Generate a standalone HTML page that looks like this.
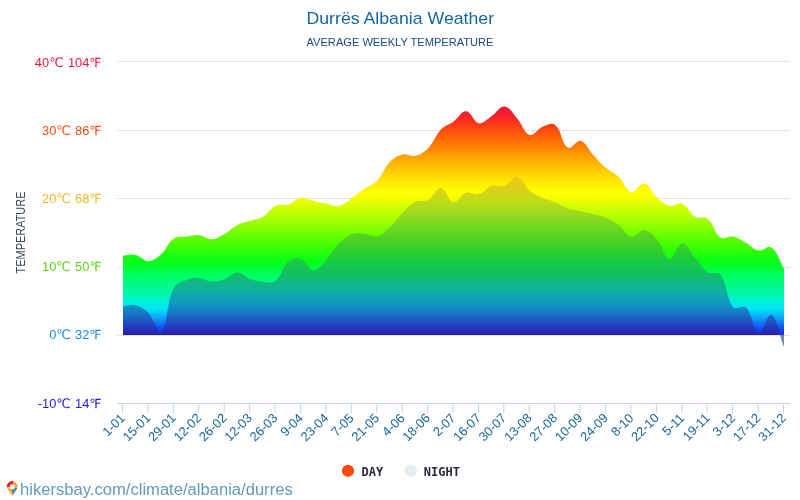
<!DOCTYPE html>
<html lang="sq"><head><meta charset="utf-8"><title>Durrës Albania Weather</title>
<style>html,body{margin:0;padding:0;background:#fff}body{width:800px;height:500px;overflow:hidden}svg{display:block}text{font-family:"Liberation Sans", "DejaVu Sans", sans-serif}</style></head><body>
<svg width="800" height="500" viewBox="0 0 800 500">
<defs><linearGradient id="gd" gradientUnits="userSpaceOnUse" x1="0" y1="61.4" x2="0" y2="403.4"><stop offset="0.0000" stop-color="#e0104a"/><stop offset="0.1304" stop-color="#f01838"/><stop offset="0.1509" stop-color="#f01c34"/><stop offset="0.1655" stop-color="#f82828"/><stop offset="0.1830" stop-color="#ff3818"/><stop offset="0.2035" stop-color="#ff5010"/><stop offset="0.2240" stop-color="#ff6808"/><stop offset="0.2503" stop-color="#ff8000"/><stop offset="0.2766" stop-color="#ffa000"/><stop offset="0.3088" stop-color="#ffc000"/><stop offset="0.3409" stop-color="#ffe000"/><stop offset="0.3731" stop-color="#fff800"/><stop offset="0.3819" stop-color="#ffff00"/><stop offset="0.3936" stop-color="#fcff00"/><stop offset="0.4345" stop-color="#c8ff00"/><stop offset="0.4696" stop-color="#a0ff00"/><stop offset="0.5047" stop-color="#70ff00"/><stop offset="0.5398" stop-color="#40ff04"/><stop offset="0.5690" stop-color="#18ff10"/><stop offset="0.5865" stop-color="#08ff18"/><stop offset="0.6012" stop-color="#00ff30"/><stop offset="0.6246" stop-color="#00ff60"/><stop offset="0.6743" stop-color="#00f8a0"/><stop offset="0.7006" stop-color="#00f0d8"/><stop offset="0.7240" stop-color="#00e4f8"/><stop offset="0.7386" stop-color="#08c0f8"/><stop offset="0.7561" stop-color="#1090f8"/><stop offset="0.7737" stop-color="#1060f0"/><stop offset="0.7868" stop-color="#1040f0"/><stop offset="0.8000" stop-color="#1430e8"/><stop offset="1.0000" stop-color="#2414e0"/></linearGradient>
<linearGradient id="gn" gradientUnits="userSpaceOnUse" x1="0" y1="61.4" x2="0" y2="403.4"><stop offset="0.0000" stop-color="#ecc818"/><stop offset="0.3380" stop-color="#ecc818"/><stop offset="0.3614" stop-color="#e4cc18"/><stop offset="0.3848" stop-color="#d6d418"/><stop offset="0.4111" stop-color="#bedb18"/><stop offset="0.4374" stop-color="#a4da1e"/><stop offset="0.4579" stop-color="#8cda20"/><stop offset="0.4901" stop-color="#6ad820"/><stop offset="0.5164" stop-color="#50d222"/><stop offset="0.5427" stop-color="#38d028"/><stop offset="0.5749" stop-color="#20cc3c"/><stop offset="0.5924" stop-color="#18c848"/><stop offset="0.6187" stop-color="#10c060"/><stop offset="0.6450" stop-color="#10b880"/><stop offset="0.6713" stop-color="#10b0a0"/><stop offset="0.6947" stop-color="#10a0b8"/><stop offset="0.7094" stop-color="#1098c0"/><stop offset="0.7357" stop-color="#1878c8"/><stop offset="0.7620" stop-color="#2050c0"/><stop offset="0.7883" stop-color="#2828b8"/><stop offset="0.8000" stop-color="#2820b0"/><stop offset="0.8003" stop-color="#7486a6"/><stop offset="1.0000" stop-color="#7486a6"/></linearGradient></defs>
<rect width="800" height="500" fill="#fff"/>
<rect x="117" y="61" width="673" height="1" fill="#e3e3e3"/>
<rect x="117" y="130" width="673" height="1" fill="#e3e3e3"/>
<rect x="117" y="198" width="673" height="1" fill="#e3e3e3"/>
<rect x="117" y="267" width="673" height="1" fill="#e3e3e3"/>
<rect x="117" y="335" width="673" height="1" fill="#e3e3e3"/>
<path d="M123.00,335.00 L123.00,255.66 C128.08,255.38 130.89,253.93 135.71,254.97 C141.06,256.12 143.39,261.26 148.42,261.13 C153.56,260.99 156.90,258.05 161.13,254.29 C167.07,249.02 167.63,242.90 173.85,238.56 C177.80,235.79 181.46,237.19 186.56,236.50 C191.62,235.82 194.30,234.60 199.27,235.14 C204.47,235.70 206.99,239.51 211.98,239.24 C217.16,238.96 219.90,236.48 224.69,233.77 C230.07,230.73 231.94,227.67 237.40,224.88 C242.11,222.47 245.03,222.41 250.12,220.77 C255.20,219.13 258.32,219.34 262.83,216.67 C268.49,213.32 269.76,208.44 275.54,205.72 C279.93,203.66 283.48,206.17 288.25,204.70 C293.65,203.03 295.63,198.65 300.96,197.86 C305.80,197.14 308.57,199.77 313.67,200.94 C318.74,202.10 321.28,202.71 326.38,203.67 C331.44,204.62 334.36,206.74 339.10,205.72 C344.53,204.55 346.91,201.49 351.81,198.20 C357.08,194.65 359.31,192.27 364.52,188.62 C369.48,185.16 373.13,184.72 377.23,180.42 C383.30,174.05 383.81,168.22 389.94,161.95 C393.98,157.82 397.20,155.74 402.65,154.42 C407.37,153.28 410.65,156.93 415.37,155.79 C420.82,154.47 424.04,152.40 428.08,148.27 C434.21,142.00 434.72,136.17 440.79,129.80 C444.89,125.50 448.61,125.14 453.50,121.59 C458.78,117.76 461.30,111.00 466.21,111.33 C471.47,111.69 473.38,122.26 478.92,123.30 C483.55,124.17 486.77,119.33 491.63,116.12 C496.94,112.62 499.46,106.15 504.35,106.54 C509.63,106.97 512.48,113.06 517.06,118.17 C522.65,124.41 523.85,132.94 529.77,134.93 C534.02,136.36 536.98,128.90 542.48,126.72 C547.15,124.88 551.83,122.12 555.19,124.88 C562.00,130.46 561.36,143.50 567.90,147.58 C571.53,149.85 576.25,139.45 580.62,140.74 C586.42,142.46 588.11,149.49 593.33,155.11 C598.28,160.43 600.55,163.38 606.04,168.10 C610.72,172.14 614.27,172.78 618.75,177.00 C624.44,182.35 625.74,190.58 631.46,192.04 C635.91,193.18 639.62,182.51 644.17,183.49 C649.79,184.70 651.23,192.57 656.88,197.52 C661.40,201.47 664.10,204.39 669.60,205.72 C674.27,206.86 678.09,201.86 682.31,203.67 C688.26,206.23 689.07,213.14 695.02,216.67 C699.24,219.16 704.05,215.70 707.73,218.72 C714.22,224.04 713.93,232.98 720.44,237.53 C724.10,240.09 728.33,235.53 733.15,236.50 C738.50,237.58 740.93,239.94 745.87,242.66 C751.09,245.54 753.15,249.50 758.58,250.53 C763.32,251.42 767.77,244.94 771.29,247.45 C777.94,252.19 778.92,260.17 784.00,268.65 L784.00,335.00 Z" fill="url(#gd)"/>
<path d="M123.00,335.00 L123.00,305.93 C128.08,305.79 131.01,304.26 135.71,305.59 C141.18,307.13 144.41,308.96 148.42,313.11 C154.58,319.49 157.77,335.27 161.13,331.92 C167.94,325.15 166.17,303.49 173.85,287.80 C176.34,282.70 181.09,282.07 186.56,279.94 C191.26,278.10 194.26,277.55 199.27,277.89 C204.43,278.23 206.85,281.44 211.98,281.65 C217.02,281.85 219.85,280.67 224.69,278.91 C230.01,276.98 232.32,272.41 237.40,272.41 C242.49,272.41 244.79,276.98 250.12,278.91 C254.96,280.67 257.69,281.23 262.83,281.65 C267.86,282.05 271.94,283.82 275.54,280.96 C282.11,275.75 281.71,267.10 288.25,261.47 C291.88,258.34 296.57,257.54 300.96,259.08 C306.74,261.10 308.52,270.22 313.67,270.36 C318.69,270.50 321.91,264.58 326.38,259.76 C332.08,253.64 333.21,248.86 339.10,243.00 C343.38,238.74 346.25,236.47 351.81,234.45 C356.42,232.78 359.48,233.43 364.52,233.77 C369.64,234.11 372.64,237.40 377.23,236.16 C382.81,234.66 385.33,231.15 389.94,226.93 C395.50,221.85 397.26,218.20 402.65,212.91 C407.43,208.21 409.60,204.83 415.37,201.96 C419.77,199.77 423.80,202.61 428.08,200.25 C433.97,197.00 435.91,187.55 440.79,187.94 C446.08,188.37 447.94,201.26 453.50,202.30 C458.11,203.17 460.57,194.55 466.21,192.73 C470.74,191.27 474.27,195.35 478.92,194.10 C484.44,192.61 486.11,187.67 491.63,185.89 C496.28,184.39 499.77,187.49 504.35,185.89 C509.94,183.93 512.44,176.13 517.06,177.00 C522.61,178.04 524.06,185.99 529.77,190.68 C534.23,194.34 537.19,195.44 542.48,197.86 C547.36,200.09 550.23,200.23 555.19,202.30 C560.40,204.47 562.61,206.61 567.90,208.46 C572.78,210.16 575.53,210.10 580.62,211.20 C585.70,212.29 588.31,212.58 593.33,213.93 C598.48,215.32 601.15,215.93 606.04,218.04 C611.32,220.31 614.15,221.47 618.75,224.88 C624.32,228.99 625.89,235.72 631.46,236.85 C636.06,237.77 639.30,229.55 644.17,230.01 C649.47,230.51 652.82,234.59 656.88,239.24 C662.99,246.22 664.12,258.19 669.60,259.08 C674.29,259.83 677.05,243.70 682.31,243.34 C687.22,243.01 690.04,251.67 695.02,257.37 C700.21,263.30 701.58,268.28 707.73,272.41 C711.75,275.12 717.72,270.73 720.44,274.47 C727.89,284.68 725.68,297.65 733.15,307.30 C735.85,310.78 742.74,304.14 745.87,307.30 C752.91,314.40 752.84,331.25 758.58,332.95 C763.01,334.26 767.32,312.63 771.29,314.82 C777.49,318.24 778.92,334.11 784.00,346.97 L784.00,335.00 Z" fill="url(#gn)"/>
<rect x="117" y="403" width="673" height="1" fill="#c8d2ec"/>
<rect x="122.00" y="403" width="1" height="10" fill="#c8d2ec"/>
<rect x="147.42" y="403" width="1" height="10" fill="#c8d2ec"/>
<rect x="172.85" y="403" width="1" height="10" fill="#c8d2ec"/>
<rect x="198.27" y="403" width="1" height="10" fill="#c8d2ec"/>
<rect x="223.69" y="403" width="1" height="10" fill="#c8d2ec"/>
<rect x="249.12" y="403" width="1" height="10" fill="#c8d2ec"/>
<rect x="274.54" y="403" width="1" height="10" fill="#c8d2ec"/>
<rect x="299.96" y="403" width="1" height="10" fill="#c8d2ec"/>
<rect x="325.38" y="403" width="1" height="10" fill="#c8d2ec"/>
<rect x="350.81" y="403" width="1" height="10" fill="#c8d2ec"/>
<rect x="376.23" y="403" width="1" height="10" fill="#c8d2ec"/>
<rect x="401.65" y="403" width="1" height="10" fill="#c8d2ec"/>
<rect x="427.08" y="403" width="1" height="10" fill="#c8d2ec"/>
<rect x="452.50" y="403" width="1" height="10" fill="#c8d2ec"/>
<rect x="477.92" y="403" width="1" height="10" fill="#c8d2ec"/>
<rect x="503.35" y="403" width="1" height="10" fill="#c8d2ec"/>
<rect x="528.77" y="403" width="1" height="10" fill="#c8d2ec"/>
<rect x="554.19" y="403" width="1" height="10" fill="#c8d2ec"/>
<rect x="579.62" y="403" width="1" height="10" fill="#c8d2ec"/>
<rect x="605.04" y="403" width="1" height="10" fill="#c8d2ec"/>
<rect x="630.46" y="403" width="1" height="10" fill="#c8d2ec"/>
<rect x="655.88" y="403" width="1" height="10" fill="#c8d2ec"/>
<rect x="681.31" y="403" width="1" height="10" fill="#c8d2ec"/>
<rect x="706.73" y="403" width="1" height="10" fill="#c8d2ec"/>
<rect x="732.15" y="403" width="1" height="10" fill="#c8d2ec"/>
<rect x="757.58" y="403" width="1" height="10" fill="#c8d2ec"/>
<rect x="783.00" y="403" width="1" height="10" fill="#c8d2ec"/>
<text transform="translate(122.7,415.7) rotate(-45)" text-anchor="end" font-size="12.85" fill="#15649e" dy="4.4">1-01</text>
<text transform="translate(148.1,415.7) rotate(-45)" text-anchor="end" font-size="12.85" fill="#15649e" dy="4.4">15-01</text>
<text transform="translate(173.5,415.7) rotate(-45)" text-anchor="end" font-size="12.85" fill="#15649e" dy="4.4">29-01</text>
<text transform="translate(199.0,415.7) rotate(-45)" text-anchor="end" font-size="12.85" fill="#15649e" dy="4.4">12-02</text>
<text transform="translate(224.4,415.7) rotate(-45)" text-anchor="end" font-size="12.85" fill="#15649e" dy="4.4">26-02</text>
<text transform="translate(249.8,415.7) rotate(-45)" text-anchor="end" font-size="12.85" fill="#15649e" dy="4.4">12-03</text>
<text transform="translate(275.2,415.7) rotate(-45)" text-anchor="end" font-size="12.85" fill="#15649e" dy="4.4">26-03</text>
<text transform="translate(300.7,415.7) rotate(-45)" text-anchor="end" font-size="12.85" fill="#15649e" dy="4.4">9-04</text>
<text transform="translate(326.1,415.7) rotate(-45)" text-anchor="end" font-size="12.85" fill="#15649e" dy="4.4">23-04</text>
<text transform="translate(351.5,415.7) rotate(-45)" text-anchor="end" font-size="12.85" fill="#15649e" dy="4.4">7-05</text>
<text transform="translate(376.9,415.7) rotate(-45)" text-anchor="end" font-size="12.85" fill="#15649e" dy="4.4">21-05</text>
<text transform="translate(402.4,415.7) rotate(-45)" text-anchor="end" font-size="12.85" fill="#15649e" dy="4.4">4-06</text>
<text transform="translate(427.8,415.7) rotate(-45)" text-anchor="end" font-size="12.85" fill="#15649e" dy="4.4">18-06</text>
<text transform="translate(453.2,415.7) rotate(-45)" text-anchor="end" font-size="12.85" fill="#15649e" dy="4.4">2-07</text>
<text transform="translate(478.6,415.7) rotate(-45)" text-anchor="end" font-size="12.85" fill="#15649e" dy="4.4">16-07</text>
<text transform="translate(504.0,415.7) rotate(-45)" text-anchor="end" font-size="12.85" fill="#15649e" dy="4.4">30-07</text>
<text transform="translate(529.5,415.7) rotate(-45)" text-anchor="end" font-size="12.85" fill="#15649e" dy="4.4">13-08</text>
<text transform="translate(554.9,415.7) rotate(-45)" text-anchor="end" font-size="12.85" fill="#15649e" dy="4.4">27-08</text>
<text transform="translate(580.3,415.7) rotate(-45)" text-anchor="end" font-size="12.85" fill="#15649e" dy="4.4">10-09</text>
<text transform="translate(605.7,415.7) rotate(-45)" text-anchor="end" font-size="12.85" fill="#15649e" dy="4.4">24-09</text>
<text transform="translate(631.2,415.7) rotate(-45)" text-anchor="end" font-size="12.85" fill="#15649e" dy="4.4">8-10</text>
<text transform="translate(656.6,415.7) rotate(-45)" text-anchor="end" font-size="12.85" fill="#15649e" dy="4.4">22-10</text>
<text transform="translate(682.0,415.7) rotate(-45)" text-anchor="end" font-size="12.85" fill="#15649e" dy="4.4">5-11</text>
<text transform="translate(707.4,415.7) rotate(-45)" text-anchor="end" font-size="12.85" fill="#15649e" dy="4.4">19-11</text>
<text transform="translate(732.9,415.7) rotate(-45)" text-anchor="end" font-size="12.85" fill="#15649e" dy="4.4">3-12</text>
<text transform="translate(758.3,415.7) rotate(-45)" text-anchor="end" font-size="12.85" fill="#15649e" dy="4.4">17-12</text>
<text transform="translate(783.7,415.7) rotate(-45)" text-anchor="end" font-size="12.85" fill="#15649e" dy="4.4">31-12</text>
<text x="101.6" y="67.0" text-anchor="end" font-size="12.85" word-spacing="0.8" fill="#f0163a">40℃ 104℉</text>
<text x="101.6" y="135.0" text-anchor="end" font-size="12.85" word-spacing="0.8" fill="#ff4a10">30℃ 86℉</text>
<text x="101.6" y="203.0" text-anchor="end" font-size="12.85" word-spacing="0.8" fill="#f0b820">20℃ 68℉</text>
<text x="101.6" y="271.0" text-anchor="end" font-size="12.85" word-spacing="0.8" fill="#5ad614">10℃ 50℉</text>
<text x="101.6" y="339.0" text-anchor="end" font-size="12.85" word-spacing="0.8" fill="#1a8ce8">0℃ 32℉</text>
<text x="101.6" y="408.0" text-anchor="end" font-size="12.85" word-spacing="0.8" fill="#2414e0">-10℃ 14℉</text>
<text transform="translate(25.3,232.5) rotate(-90)" text-anchor="middle" font-size="12" textLength="82" lengthAdjust="spacingAndGlyphs" fill="#3a4a64">TEMPERATURE</text>
<text x="400.3" y="23.7" text-anchor="middle" font-size="17.4" textLength="187.6" lengthAdjust="spacingAndGlyphs" fill="#1565a5">Durrës Albania Weather</text>
<text x="400" y="45.5" text-anchor="middle" font-size="11.1" fill="#164a88">AVERAGE WEEKLY TEMPERATURE</text>
<circle cx="348" cy="470.8" r="6.1" fill="#ff4a0a"/>
<text x="361.5" y="475.6" font-size="12" font-weight="bold" fill="#2a2a3c" style="font-family:'DejaVu Sans Mono','Liberation Mono',monospace">DAY</text>
<circle cx="410.8" cy="470.8" r="6.1" fill="#e4ecf4"/>
<text x="423.8" y="475.6" font-size="12" font-weight="bold" fill="#2a2a3c" style="font-family:'DejaVu Sans Mono','Liberation Mono',monospace">NIGHT</text>
<defs><clipPath id="pinc"><path clip-rule="evenodd" d="M0.96,8.2 A5.2,5.2 0 1 1 9.44,8.2 L5.2,14.3 Z M7.85,5.5 A2.55,2.55 0 1 0 2.75,5.5 A2.55,2.55 0 1 0 7.85,5.5 Z"/></clipPath></defs>
<g transform="translate(7,481.3)"><path d="M10.1,7 L10.9,7.4 L6.2,14 L5.6,13.6 Z" fill="#cfe0ee"/><g clip-path="url(#pinc)"><rect x="-1" y="-1" width="13" height="17" fill="#ffa32e"/><path d="M5.2,5.4 L-4.8,6.2 L-5,-5 L7.6,-4.4 Z" fill="#f0203c"/><path d="M5.2,5.4 L13.9,8.2 L13.9,16 L5.2,16 Z" fill="#4a86ae"/><path d="M0,6 L2.4,5.6 L2.9,7.4 L0.6,8.2 Z" fill="#ffd23c"/><path d="M4.3,12.2 L5.2,12 L5.2,14.4 L4.4,14 Z" fill="#ffd23c"/></g></g>
<text x="20.1" y="494.7" font-size="16" textLength="272.6" lengthAdjust="spacingAndGlyphs" fill="#6399bc">hikersbay.com/climate/albania/durres</text>
</svg></body></html>
